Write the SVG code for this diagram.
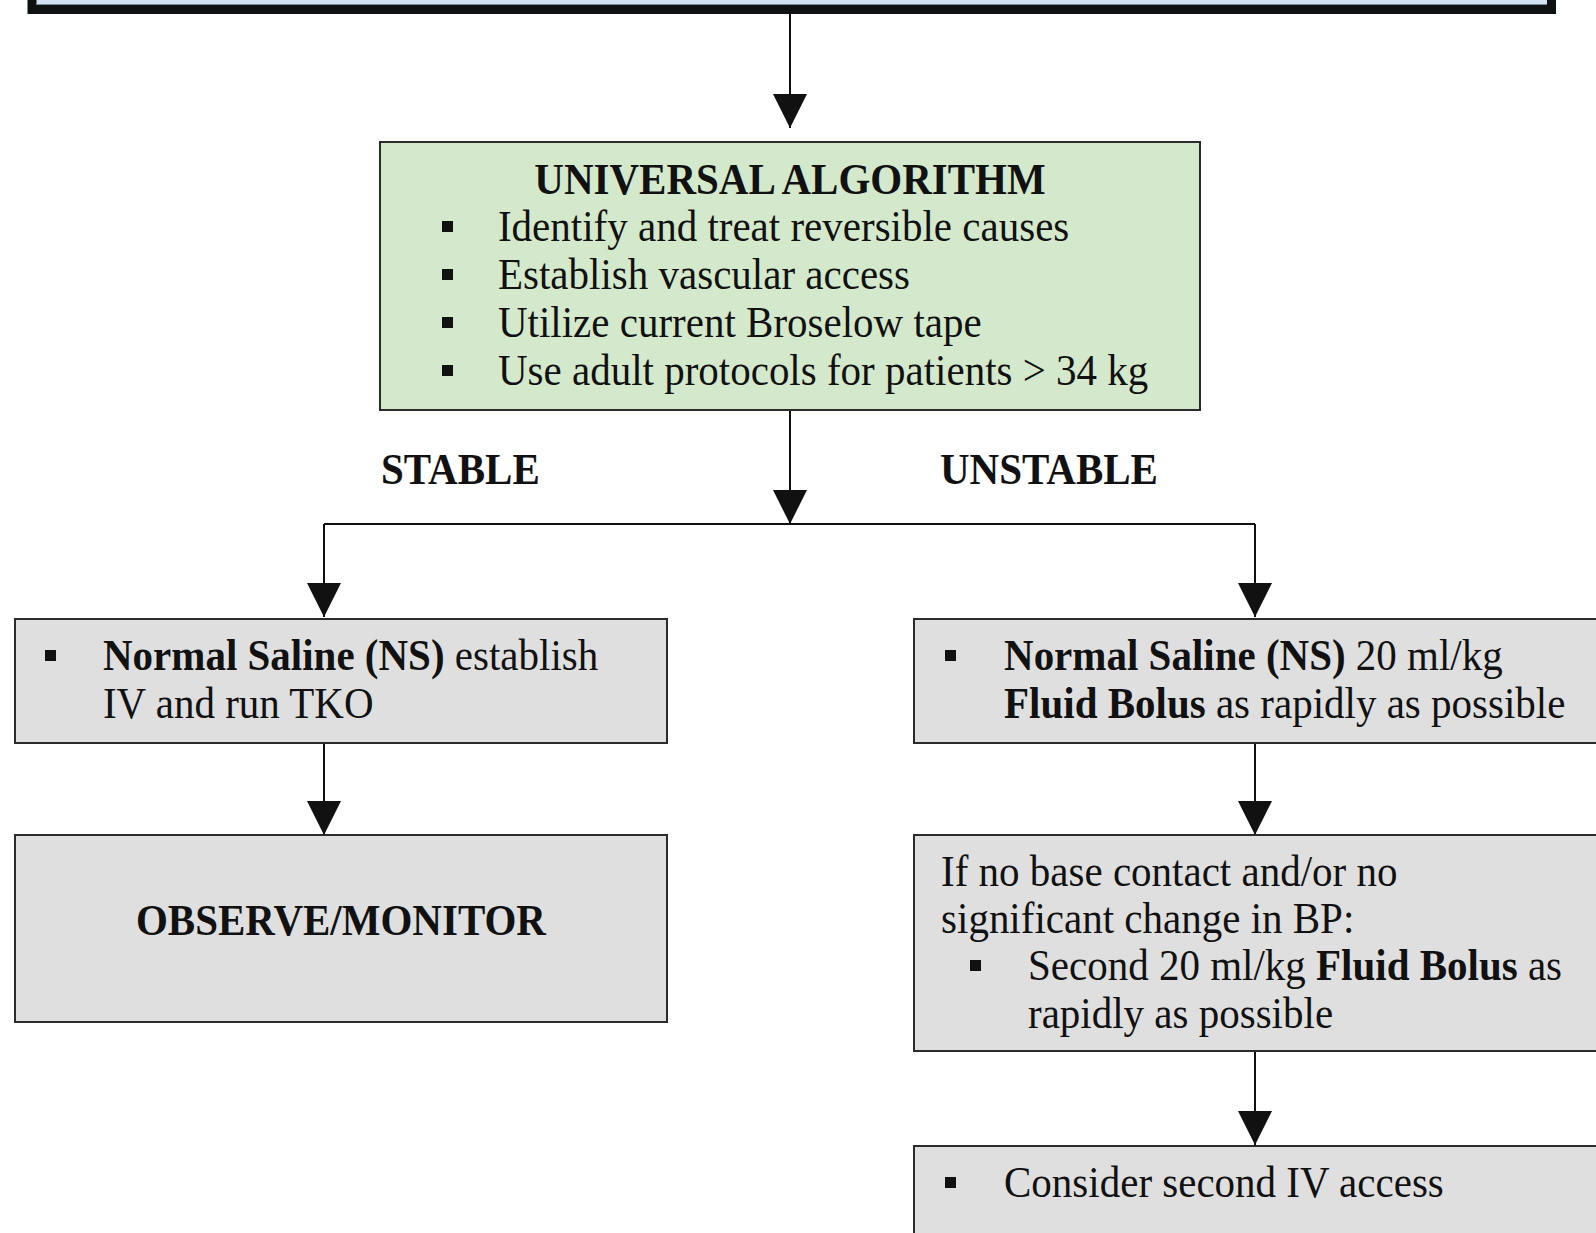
<svg xmlns="http://www.w3.org/2000/svg" width="1596" height="1233" viewBox="0 0 1596 1233">
<style>
  .t{font-family:"Liberation Serif","Times New Roman",serif;font-size:44px;fill:#111;}
  .b{font-weight:bold;}
  .green{fill:#d4e9cc;stroke:#2b2b2b;stroke-width:2;}
  .gray{fill:#dfdfdf;stroke:#2b2b2b;stroke-width:2;}
  .bul{fill:#111;}
  .conn{fill:none;stroke:#111;stroke-width:2;}
</style>
<defs>
  <marker id="ah" markerUnits="userSpaceOnUse" markerWidth="34" markerHeight="34" refX="34" refY="17" orient="auto" viewBox="0 0 34 34">
    <path d="M0,0 L34,17 L0,34 Z" fill="#111"/>
  </marker>
</defs>
<rect width="1596" height="1233" fill="#ffffff"/>

<g id="top-box">
  <rect x="32" y="-20" width="1519.5" height="29.5" fill="#cfe2f3" stroke="#0e1112" stroke-width="9"/>
  <line x1="36.5" y1="4.5" x2="1547" y2="4.5" stroke="#7d8a95" stroke-width="1"/>
</g>

<g id="connectors">
  <path class="conn" d="M790,14 V128" marker-end="url(#ah)"/>
  <path class="conn" d="M790,410 V524" marker-end="url(#ah)"/>
  <path class="conn" d="M324,524 H1255"/>
  <path class="conn" d="M324,524 V617" marker-end="url(#ah)"/>
  <path class="conn" d="M1255,524 V617" marker-end="url(#ah)"/>
  <path class="conn" d="M324,743 V835" marker-end="url(#ah)"/>
  <path class="conn" d="M1255,743 V835" marker-end="url(#ah)"/>
  <path class="conn" d="M1255,1051 V1145" marker-end="url(#ah)"/>
</g>

<g id="universal-algorithm">
  <rect class="green" x="380" y="142" width="820" height="268"/>
  <rect class="bul" x="442" y="221" width="11" height="11"/>
  <rect class="bul" x="442" y="269" width="11" height="11"/>
  <rect class="bul" x="442" y="317" width="11" height="11"/>
  <rect class="bul" x="442" y="365" width="11" height="11"/>
  <g transform="scale(0.93182,1)">
    <text class="t b" x="847.8" y="194" text-anchor="middle">UNIVERSAL ALGORITHM</text>
    <text class="t" x="534.4" y="241">Identify and treat reversible causes</text>
    <text class="t" x="534.4" y="289">Establish vascular access</text>
    <text class="t" x="534.4" y="337">Utilize current Broselow tape</text>
    <text class="t" x="534.4" y="385">Use adult protocols for patients &gt; 34 kg</text>
  </g>
</g>

<g id="label-stable">
  <g transform="scale(0.93182,1)">
    <text class="t b" x="408.9" y="484">STABLE</text>
  </g>
</g>
<g id="label-unstable">
  <g transform="scale(0.93182,1)">
    <text class="t b" x="1008.8" y="484">UNSTABLE</text>
  </g>
</g>

<g id="stable-ns">
  <rect class="gray" x="15" y="619" width="652" height="124"/>
  <rect class="bul" x="45" y="650" width="11" height="11"/>
  <g transform="scale(0.93182,1)">
    <text class="t" x="110.5" y="670"><tspan class="b">Normal Saline (NS)</tspan> establish</text>
    <text class="t" x="110.5" y="718">IV and run TKO</text>
  </g>
</g>

<g id="observe-monitor">
  <rect class="gray" x="15" y="835" width="652" height="187"/>
  <g transform="scale(0.93182,1)">
    <text class="t b" x="365.9" y="935" text-anchor="middle">OBSERVE/MONITOR</text>
  </g>
</g>

<g id="unstable-ns">
  <rect class="gray" x="914" y="619" width="700" height="124"/>
  <rect class="bul" x="945" y="650" width="11" height="11"/>
  <g transform="scale(0.93182,1)">
    <text class="t" x="1077.5" y="670"><tspan class="b">Normal Saline (NS)</tspan> 20 ml/kg</text>
    <text class="t" x="1077.5" y="718"><tspan class="b">Fluid Bolus</tspan> as rapidly as possible</text>
  </g>
</g>

<g id="second-bolus">
  <rect class="gray" x="914" y="835" width="700" height="216"/>
  <rect class="bul" x="970" y="960" width="11" height="11"/>
  <g transform="scale(0.93182,1)">
    <text class="t" x="1009.9" y="886">If no base contact and/or no</text>
    <text class="t" x="1009.9" y="933">significant change in BP:</text>
    <text class="t" x="1103.2" y="980">Second 20 ml/kg <tspan class="b">Fluid Bolus</tspan> as</text>
    <text class="t" x="1103.2" y="1028">rapidly as possible</text>
  </g>
</g>

<g id="second-iv">
  <rect class="gray" x="914" y="1146" width="700" height="120"/>
  <rect class="bul" x="945" y="1177" width="11" height="11"/>
  <g transform="scale(0.93182,1)">
    <text class="t" x="1077.5" y="1197">Consider second IV access</text>
  </g>
</g>
</svg>
